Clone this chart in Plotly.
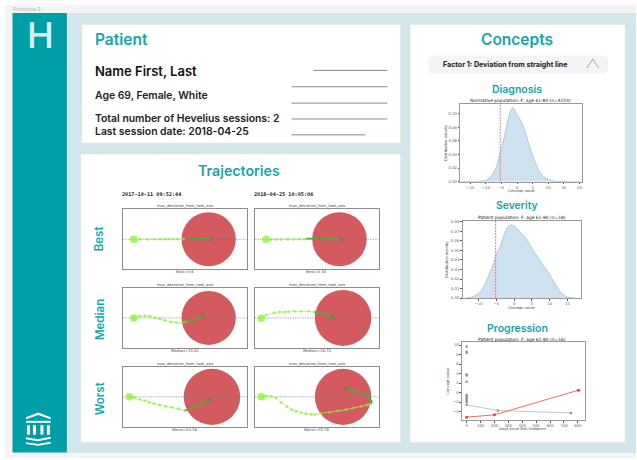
"""Patient dashboard prototype: trajectories and concept charts."""

import plotly.graph_objects as go

W, H = 637, 460
TEAL = "#009fa8"
TITLE_TEAL = "#14a5ad"
FRAME_BG = "#d3e6e9"
PAGE_GREY = "#f4f4f4"
AXIS_GREY = "#9a9a9a"
TICK_GREY = "#555555"
MPL_FONT = "DejaVu Sans"

# ---------------------------------------------------------------------------
# Data
# ---------------------------------------------------------------------------

patient_rows = ["Age 69, Female, White", "Total number of Hevelius sessions: 2", "Last session date: 2018-04-25"]
session_dates = ["2017-10-11 09:52:44", "2018-04-25 10:05:06"]
row_names = ["Best", "Median", "Worst"]
score_labels = ["Best=3.6", "Best=5.30", "Median=15.01", "Median=18.72", "Worst=54.16", "Worst=70.78"]

# trajectories, x and y in frame units; "reach" is the dark end section
best_l_x = [10.7, 16.7, 24.3, 31, 37.3, 41.7, 45.7, 50, 54.3, 61]
best_l_y = [0, -0.2, -0.2, -0.1, -0.1, 0, 0, 0.1, 0.1, 0.1]
best_l_reach_x = [66.7, 71, 75, 79, 83, 87.7]
best_l_reach_y = [0.8, 1, 1, 0.8, 0.3, 0]

best_r_x = [11.3, 16.3, 21.3, 26.3, 33, 39, 44.7, 49.7]
best_r_y = [0, -0.3, -0.3, -0.3, -0.2, -0.2, -0.1, 0]
best_r_reach_x = [51.3, 58, 64.7, 73, 79.7, 86.3]
best_r_reach_y = [0.5, 0.8, 0.5, 0.2, 0, -0.2]

median_l_x = [10.7, 16.7, 21.7, 26.7, 31.7, 36.7, 41.7, 48.3, 53.3, 59, 63.3]
median_l_y = [0, 1.7, 2, 1.7, 0.3, -1, -2.7, -4, -4.7, -4.7, -4]
median_l_reach_x = [63.3, 68.3, 73.3, 76.7, 80]
median_l_reach_y = [-4, -3, -1, 1.3, 3]

median_r_x = [6.3, 11.3, 19, 24.7, 29.7, 33.7, 39.7, 46.3, 53.7, 59.7]
median_r_y = [-0.3, 3, 5, 6, 6, 6.3, 6.7, 6.7, 6.7, 6]
median_r_reach_x = [59.7, 63, 69.7, 78]
median_r_reach_y = [6, 5.3, 4, 1.3]

worst_l_x = [6.3, 11.7, 16.7, 21.7, 26, 31, 36.7, 42.7, 49, 55.7, 61.7]
worst_l_y = [0, -1, -2.7, -4, -5.7, -7, -8.3, -9.7, -10.7, -12, -13.7]
worst_l_reach_x = [61.7, 66.7, 73.3, 80, 86.7]
worst_l_reach_y = [-13.7, -13, -9.7, -6.3, -3]

worst_r_x = [6.3, 11.3, 16.3, 21.3, 26.3, 32, 37, 41.3, 46.3, 51.3, 56.3, 60.3, 65.7, 74.7, 83, 91.3, 99, 106.3, 113, 116.3]
worst_r_y = [0, 1, 0.7, -1.3, -5.7, -10, -13, -14.7, -16, -17, -17.7, -17.7, -16.7, -15.7, -14.3, -13, -11.3, -9.7, -8, -6.7]
worst_r_reach_x = [116.3, 117, 114.7, 111.3, 104.7, 98, 91.7]
worst_r_reach_y = [-6.7, -4.7, -1.3, 3, 3.7, 6.3, 8.7]

target_x = [85.7, 84.7, 85.7, 88.3, 89, 88.3]
target_r = [27.2, 27.3, 27.2, 28.3, 28.3, 28.3]

diagnosis_x = [-18, -15, -12, -10, -8, -6.5, -5, -4, -3, -2, -1.4, -1, 0, 1, 2, 3, 4, 5, 6, 7, 8, 10, 12, 15, 20]
diagnosis_y = [0, 0, 0.001, 0.002, 0.01, 0.023, 0.05, 0.0675, 0.089, 0.105, 0.1087, 0.1075, 0.098, 0.091, 0.0806, 0.0675, 0.0515, 0.038, 0.0265, 0.016, 0.0095, 0.003, 0.001, 0, 0]
diagnosis_patient = -5.4

severity_x = [-13.5, -12, -10, -9, -8, -7, -6, -5, -4, -3, -2, -1, 0, 1, 2, 3, 4, 5, 6, 7, 8, 9, 10, 11, 12, 13, 14, 15, 17]
severity_y = [0, 0.001, 0.0045, 0.009, 0.016, 0.025, 0.034, 0.046, 0.053, 0.064, 0.073, 0.0765, 0.0755, 0.072, 0.068, 0.064, 0.059, 0.052, 0.046, 0.041, 0.035, 0.03, 0.0245, 0.018, 0.012, 0.0065, 0.003, 0.001, 0]
severity_patient = -5.2

cohort_x = [0, 0, 0, 0, 0, 0, 0, 0, 0, 0, 0]
cohort_y = [9.7, 8.6, 8.4, 3.8, 3.6, 2.3, -0.5, -0.9, -1.2, -1.6, -2.0]
grey_days = [0, 225, 750]
grey_values = [-2.6, -3.8, -4.3]
red_days = [0, 200, 805]
red_values = [-5.2, -4.7, 0.5]

# ---------------------------------------------------------------------------
# Pixel helpers
# ---------------------------------------------------------------------------


def px(x):
    return x / W


def py(y):
    return 1 - y / H


def panel(x0, y0, x1, y1, color):
    return dict(type="rect", xref="paper", yref="paper", layer="below",
                x0=px(x0), x1=px(x1), y0=py(y0), y1=py(y1),
                fillcolor=color, line=dict(width=0))


def rule(x0, y0, x1, y1, color="#8a8a8a", width=1):
    return dict(type="line", xref="paper", yref="paper",
                x0=px(x0), x1=px(x1), y0=py(y0), y1=py(y1),
                line=dict(color=color, width=width))


def outline(points, closed=True):
    parts = [f"{'M' if i == 0 else 'L'}{px(x):.5f},{py(y):.5f}" for i, (x, y) in enumerate(points)]
    return " ".join(parts) + (" Z" if closed else "")


def label(x, y, text, size, color="#222222", family="Inter", weight=400, anchor="left", angle=0):
    # annotation boxes sit a little low for the larger Inter text
    lift = 0.06 * size if family == "Inter" and angle == 0 else 0
    return dict(xref="paper", yref="paper", x=px(x), y=py(y - lift), text=text, showarrow=False,
                xanchor=anchor, yanchor="middle", textangle=angle, borderpad=0,
                font=dict(family=family, size=size, color=color, weight=weight))


def heading(x, y, text, size):
    return label(x, y, text, size, color=TITLE_TEAL, weight=600, anchor="center")


fig = go.Figure()
shapes = [
    panel(5, 3, W, H, PAGE_GREY),
    panel(67, 11, W, 455, FRAME_BG),
    panel(12.5, 11, 67, 454.5, TEAL),
    panel(82, 23, 401, 142, "white"),
    panel(81, 153.5, 401, 444, "white"),
    panel(411, 23, 626, 444, "white"),
    rule(314, 69, 388, 69),
    rule(292, 85.5, 388, 85.5),
    rule(292, 102, 388, 102),
    rule(292, 118, 388, 118),
    rule(292, 134, 366, 134),
]

# rounded factor selector and its caret
shapes.append(dict(
    type="path", xref="paper", yref="paper", layer="below", fillcolor=PAGE_GREY, line=dict(width=0),
    path=outline([(432, 54), (606, 54), (609, 57), (609, 69), (606, 72.3), (432, 72.3), (429, 69), (429, 57)]),
))
shapes.append(dict(
    type="path", xref="paper", yref="paper", line=dict(color="#8f8f8f", width=0.8),
    path=outline([(587.7, 66.7), (593.7, 57.7), (599.7, 66.7)], closed=False),
))

# building logo in the sidebar
logo_parts = [
    [(26, 419), (38.3, 414), (50.7, 419), (50.7, 421), (38.3, 416.5), (26, 421)],
    [(26, 422.5), (50.7, 422.5), (50.7, 424.5), (26, 424.5)],
    [(27, 427), (30, 427), (30, 436.5), (27, 436.5)],
    [(33, 427), (36, 427), (36, 436.5), (33, 436.5)],
    [(40.5, 427), (43.5, 427), (43.5, 436.5), (40.5, 436.5)],
    [(47, 427), (50, 427), (50, 436.5), (47, 436.5)],
    [(26, 439), (38, 441), (50.7, 438.5), (50.7, 440.5), (38, 443), (26, 441)],
    [(26, 444), (38, 446), (50.7, 443.5), (50.7, 445.5), (38, 447.7), (26, 446)],
]
for part in logo_parts:
    shapes.append(dict(type="path", xref="paper", yref="paper", fillcolor="white",
                       line=dict(width=0), path=outline(part)))

annotations = [
    label(12.5, 7, "Prototype 2", 5, color="#b8b8b8"),
    label(40.5, 35, "H", 36, color="#d6f0f2", weight=500, anchor="center"),
    label(94, 39, "Patient", 15.5, color=TITLE_TEAL, weight=600),
    label(94, 70.5, "Name First, Last", 13, color="#111111", weight=600),
    label(94, 95, patient_rows[0], 10.4, weight=600),
    label(94, 118.5, patient_rows[1], 10.4, weight=600),
    label(94, 131, patient_rows[2], 10.4, weight=600),
    heading(239, 171, "Trajectories", 14.2),
    label(121, 194, session_dates[0], 5.2, family="DejaVu Sans Mono", weight=700),
    label(253, 194, session_dates[1], 5.2, family="DejaVu Sans Mono", weight=700),
    label(100, 238.5, row_names[0], 11.5, color=TITLE_TEAL, weight=600, anchor="center", angle=-90),
    label(100, 320, row_names[1], 11.5, color=TITLE_TEAL, weight=600, anchor="center", angle=-90),
    label(100, 400, row_names[2], 11.5, color=TITLE_TEAL, weight=600, anchor="center", angle=-90),
    heading(517.5, 39, "Concepts", 15.5),
    label(506, 63.5, "Factor 1: Deviation from straight line", 7.1, color="#222222", weight=700, anchor="center"),
    heading(518, 89, "Diagnosis", 10.5),
    heading(518, 206, "Severity", 10.4),
    heading(518, 330, "Progression", 10.5),
    label(521.7, 99, "Normative population: F, age 61-80 (n=4254)", 4.4, family=MPL_FONT, anchor="center"),
    label(523, 217.7, "Patient population: F, age 61-80 (n=18)", 4.4, family=MPL_FONT, anchor="center"),
    label(523, 340.3, "Patient population: F, age 61-80 (n=16)", 4.4, family=MPL_FONT, anchor="center"),
]

# ---------------------------------------------------------------------------
# Trajectory frames
# ---------------------------------------------------------------------------

frames = [
    (123.3, 209.3, best_l_x, best_l_y, best_l_reach_x, best_l_reach_y),
    (255.3, 209.3, best_r_x, best_r_y, best_r_reach_x, best_r_reach_y),
    (123.3, 288.7, median_l_x, median_l_y, median_l_reach_x, median_l_reach_y),
    (255.3, 288.7, median_r_x, median_r_y, median_r_reach_x, median_r_reach_y),
    (123.3, 368.3, worst_l_x, worst_l_y, worst_l_reach_x, worst_l_reach_y),
    (255.3, 368.3, worst_r_x, worst_r_y, worst_r_reach_x, worst_r_reach_y),
]
FRAME_W, FRAME_H = 124, 60

for i, (left, top, xs, ys, reach_x, reach_y) in enumerate(frames):
    n = i + 1
    xa, ya = f"xaxis{n}", f"yaxis{n}"
    xr, yr = f"x{n}", f"y{n}"
    common = dict(showgrid=False, zeroline=False, showticklabels=False, ticks="",
                  showline=True, mirror=True, linecolor="#8c8c8c", linewidth=1)
    fig.update_layout({
        xa: dict(domain=[px(left), px(left + FRAME_W)], range=[0, FRAME_W], anchor=yr, **common),
        ya: dict(domain=[py(top + FRAME_H), py(top)], range=[-FRAME_H / 2, FRAME_H / 2], anchor=xr, **common),
    })
    shapes.append(dict(type="circle", xref=xr, yref=yr, layer="below",
                       x0=target_x[i] - target_r[i], x1=target_x[i] + target_r[i],
                       y0=-target_r[i], y1=target_r[i],
                       fillcolor="#d35b5f", line=dict(width=0)))
    fig.add_trace(go.Scatter(x=[0, FRAME_W], y=[0, 0], mode="lines", xaxis=xr, yaxis=yr,
                             line=dict(color="#777777", width=0.6, dash="1.5px,1px")))
    fig.add_trace(go.Scatter(x=xs, y=ys, mode="lines+markers", xaxis=xr, yaxis=yr,
                             line=dict(color="#a6f56a", width=0.7),
                             marker=dict(color="#7cf51c", size=[7.5] + [2.8] * (len(xs) - 1), line=dict(width=0))))
    fig.add_trace(go.Scatter(x=reach_x, y=reach_y, mode="lines", xaxis=xr, yaxis=yr,
                             line=dict(color="#55a83a", width=1.8)))
    fig.add_trace(go.Scatter(x=reach_x[-1:], y=reach_y[-1:], mode="markers", xaxis=xr, yaxis=yr,
                             marker=dict(symbol="x-thin", size=5, line=dict(color="#3c8a34", width=0.8))))
    center = left + FRAME_W / 2
    annotations.append(label(center, top - 3.3, "max_deviation_from_task_axis", 3.7,
                             family=MPL_FONT, color="#444444", anchor="center"))
    annotations.append(label(center, top + FRAME_H + 2.8, score_labels[i], 3.8,
                             family=MPL_FONT, color="#444444", anchor="center"))

# ---------------------------------------------------------------------------
# Concept charts
# ---------------------------------------------------------------------------


def concept_axes(n, box, x_range, y_range, x_ticks, y_ticks, y_format, x_title, y_title_x):
    left, top, right, bottom = box
    common = dict(showgrid=False, zeroline=False, showline=True, mirror=True,
                  linecolor=AXIS_GREY, linewidth=1, ticks="outside", ticklen=1.5, tickwidth=0.5,
                  tickcolor=TICK_GREY, tickfont=dict(family=MPL_FONT, size=3.8, color=TICK_GREY))
    fig.update_layout({
        f"xaxis{n}": dict(domain=[px(left), px(right)], range=x_range, anchor=f"y{n}",
                          tickmode="array", tickvals=x_ticks, **common),
        f"yaxis{n}": dict(domain=[py(bottom), py(top)], range=y_range, anchor=f"x{n}",
                          tickmode="array", tickvals=y_ticks, tickformat=y_format, **common),
    })
    annotations.append(label((left + right) / 2, bottom + 9.5, x_title, 3.7,
                             family=MPL_FONT, color="#444444", anchor="center"))
    y_title = "Distribution density" if n < 9 else "Concept value"
    annotations.append(label(y_title_x, (top + bottom) / 2, y_title, 3.7,
                             family=MPL_FONT, color="#444444", anchor="center", angle=-90))


def density(n, xs, ys, marker_x, top_value):
    fig.add_trace(go.Scatter(x=xs, y=ys, mode="lines", fill="tozeroy", xaxis=f"x{n}", yaxis=f"y{n}",
                             fillcolor="rgba(31,119,180,0.22)",
                             line=dict(color="#a5c9e2", width=1, shape="spline", smoothing=0.8)))
    fig.add_trace(go.Scatter(x=[marker_x, marker_x], y=[0, top_value], mode="lines",
                             xaxis=f"x{n}", yaxis=f"y{n}",
                             line=dict(color="#f4787c", width=1, dash="2px,1px")))


concept_axes(7, (461, 102.7, 582.7, 181.3), [-18.2, 20.75], [0, 0.1146],
             [-15, -10, -5, 0, 5, 10, 15, 20], [0, 0.02, 0.04, 0.06, 0.08, 0.10], ".2f", "Concept value", 446)
density(7, diagnosis_x, diagnosis_y, diagnosis_patient, 0.1146)

concept_axes(8, (463.3, 220.7, 582.3, 298.7), [-14.5, 18.9], [0, 0.081],
             [-10, -5, 0, 5, 10, 15], [0, 0.01, 0.02, 0.03, 0.04, 0.05, 0.06, 0.07, 0.08], ".2f", "Concept value", 448)
density(8, severity_x, severity_y, severity_patient, 0.081)

concept_axes(9, (462.7, 343.3, 585.7, 421.7), [-33.5, 850], [-5.8, 10.6],
             [0, 100, 200, 300, 400, 500, 600, 700, 800], [-4, -2, 0, 2, 4, 6, 8, 10], "d",
             "Days since first timepoint", 449)
fig.add_trace(go.Scatter(x=cohort_x, y=cohort_y, mode="markers", xaxis="x9", yaxis="y9",
                         marker=dict(color="#8f8f8f", size=2.5)))
fig.add_trace(go.Scatter(x=grey_days, y=grey_values, mode="lines+markers", xaxis="x9", yaxis="y9",
                         line=dict(color="#c4c4c4", width=1), marker=dict(color="#8f8f8f", size=2.5)))
fig.add_trace(go.Scatter(x=red_days, y=red_values, mode="lines+markers", xaxis="x9", yaxis="y9",
                         line=dict(color="#f46a6a", width=1), marker=dict(color="#e83a3a", size=3)))

fig.update_layout(
    width=W,
    height=H,
    autosize=False,
    margin=dict(l=0, r=0, t=0, b=0),
    paper_bgcolor="white",
    plot_bgcolor="rgba(0,0,0,0)",
    showlegend=False,
    shapes=shapes,
    annotations=annotations,
    hovermode=False,
)

fig.write_html(
    "out.html",
    config={"displayModeBar": False},
    post_script="document.body.style.margin='0';document.body.style.overflow='hidden';",
)
